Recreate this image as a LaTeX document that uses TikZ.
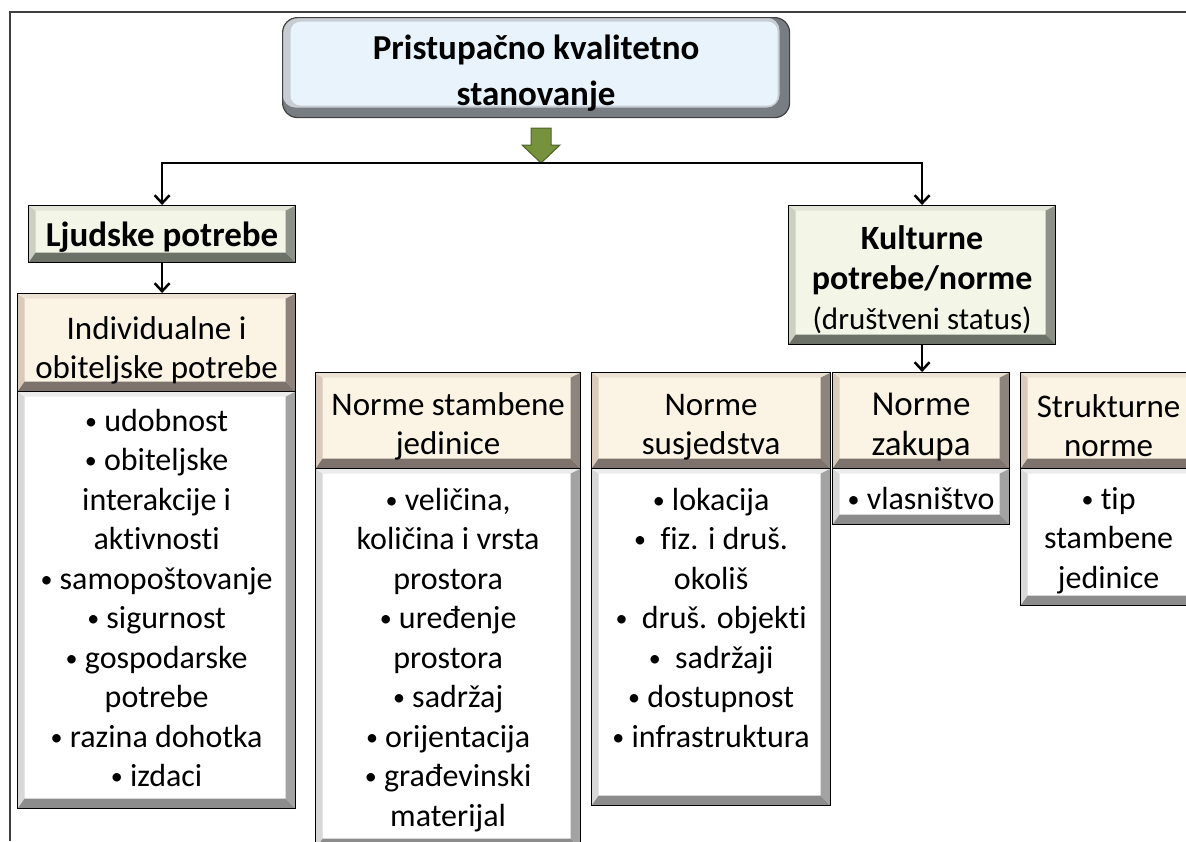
\documentclass[tikz,border=0pt]{standalone}
\usepackage{fontspec}
\setmainfont{Carlito}[Ligatures=CommonOff]
\usetikzlibrary{arrows.meta,calc}
\definecolor{FrameClr}{RGB}{64,64,64}
\definecolor{TopClr}{RGB}{232,243,252}
\definecolor{TopEdge}{RGB}{120,125,132}
\definecolor{TopLight}{RGB}{200,205,212}
\definecolor{MainClr}{RGB}{243,246,230}
\definecolor{MainL}{RGB}{204,208,192}
\definecolor{MainT}{RGB}{226,229,214}
\definecolor{MainR}{RGB}{140,146,136}
\definecolor{MainB}{RGB}{108,114,103}
\definecolor{HeadClr}{RGB}{251,244,228}
\definecolor{HeadL}{RGB}{217,202,188}
\definecolor{HeadT}{RGB}{236,226,212}
\definecolor{HeadR}{RGB}{142,132,126}
\definecolor{HeadB}{RGB}{125,115,108}
\definecolor{ItemL}{RGB}{216,216,216}
\definecolor{ItemT}{RGB}{236,236,236}
\definecolor{ItemR}{RGB}{163,163,163}
\definecolor{ItemB}{RGB}{140,140,140}
\definecolor{ArrowClr}{RGB}{118,146,60}
\definecolor{ArrowEdge}{RGB}{79,98,40}
\newcommand\bul{\raisebox{2pt}{\fontsize{24}{24}\selectfont•}}

\begin{document}
\begin{tikzpicture}[x=1pt,y=-1pt,
  bevel/.style n args={5}{fill=#1,path picture={
    \coordinate (bsw) at (path picture bounding box.south west);
    \coordinate (bne) at (path picture bounding box.north east);
    \coordinate (isw) at ($(bsw)+(7pt,10pt)$);
    \coordinate (ine) at ($(bne)+(-10pt,-5pt)$);
    \fill[#2] (bsw) -- (bsw|-bne) -- (isw|-ine) -- (isw) -- cycle;
    \fill[#3] (bsw|-bne) -- (bne) -- (ine) -- (isw|-ine) -- cycle;
    \fill[#4] (bne) -- (bne|-bsw) -- (ine|-isw) -- (ine) -- cycle;
    \fill[#5] (bsw) -- (bne|-bsw) -- (ine|-isw) -- (isw) -- cycle;}},
  box/.style={draw=black,line width=1.2pt,anchor=north west,inner sep=0pt,align=center},
  lowered/.style={execute at begin node={\rule{0pt}{#1}}},
  mainbox/.style={box,lowered=30pt,bevel={MainClr}{MainL}{MainT}{MainR}{MainB},font=\fontsize{35}{40}\selectfont\bfseries},
  headbox/.style={box,lowered=73pt,bevel={HeadClr}{HeadL}{HeadT}{HeadR}{HeadB},font=\fontsize{33}{39}\selectfont},
  itembox/.style={box,bevel={white}{ItemL}{ItemT}{ItemR}{ItemB}},
  items/.style={anchor=north,align=center,inner sep=0pt,font=\fontsize{32}{39.5}\selectfont},
  topbox/.style={draw=FrameClr,line width=1.2pt,rounded corners=15pt,anchor=north west,lowered=82pt,
    inner sep=0pt,align=center,fill=TopEdge,font=\fontsize{35}{46}\selectfont\bfseries,
    path picture={
    \coordinate (bsw) at (path picture bounding box.south west);
    \coordinate (bne) at (path picture bounding box.north east);
    \fill[TopLight,rounded corners=13pt] ($(bsw)+(0pt,10pt)$) rectangle ($(bne)+(-10pt,0pt)$);
    \fill[TopClr,rounded corners=10pt] ($(bsw)+(8pt,12pt)$) rectangle ($(bne)+(-12pt,-4pt)$);}},
  link/.style={line width=2.5pt,-{Straight Barb[length=8pt,width=15pt,line width=2.5pt]}}]

\useasboundingbox (0,0) rectangle (1186,841);
\draw[FrameClr,line width=1.5pt] (10,841) -- (10,12) -- (1186,12);

\node[topbox,minimum width=507pt,minimum height=100pt] (top) at (282,17) {Pristupačno kvalitetno\\stanovanje};
\filldraw[fill=ArrowClr,draw=ArrowEdge,line width=1pt] (531,128) -- (551,128) -- (551,145) -- (560,145)
  -- (541,163) -- (522,145) -- (531,145) -- cycle;

\node[mainbox,minimum width=267pt,minimum height=57pt] (lj) at (28,205) {Ljudske potrebe};
\node[mainbox,minimum width=267pt,minimum height=139pt,lowered=114pt,font=\fontsize{34}{40}\selectfont\bfseries] (kult) at (788,205)
  {Kulturne\\potrebe/norme\\{\fontsize{31}{40}\selectfont\mdseries(društveni status)}};

\node[headbox,minimum width=278pt,minimum height=98pt,lowered=78pt] (indh) at (17,293) {Individualne i\\obiteljske potrebe};
\node[itembox,minimum width=278pt,minimum height=417pt] (indb) at (17,391) {};
\node[items] (indt) at ($(indb.north)+(0,18)$) {\bul\ udobnost\\\bul\ obiteljske\\interakcije i\\aktivnosti\\
  \bul\ samopoštovanje\\\bul\ sigurnost\\\bul\ gospodarske\\potrebe\\\bul\ razina dohotka\\\bul\ izdaci};

\node[headbox,minimum width=265pt,minimum height=96pt] (stah) at (315,372) {Norme stambene\\jedinice};
\node[itembox,minimum width=265pt,minimum height=380pt] (stab) at (315,468) {};
\node[items] (stat) at ($(stab.north)+(0,20)$) {\bul\ veličina,\\količina i vrsta\\prostora\\\bul\ uređenje\\prostora\\
  \bul\ sadržaj\\\bul\ orijentacija\\\bul\ građevinski\\materijal};

\node[headbox,minimum width=239pt,minimum height=96pt,lowered=68pt] (susjh) at (591,372) {Norme\\susjedstva};
\node[itembox,minimum width=239pt,minimum height=337pt] (susjb) at (591,468) {};
\node[items] (susjt) at ($(susjb.north)+(0,20)$) {\bul\ lokacija\\\bul\ \ fiz. i druš.\\okoliš\\\bul\ \ druš. objekti\\
  \bul\ \ sadržaji\\\bul\ dostupnost\\\bul\ infrastruktura};

\node[headbox,minimum width=177pt,minimum height=96pt,lowered=75pt,font=\fontsize{35}{40}\selectfont] (zakh) at (832,372) {Norme\\zakupa};
\node[itembox,minimum width=177pt,minimum height=56pt] (zakb) at (832,468) {};
\node[items] (zakt) at ($(zakb.north)+(0,19)$) {\bul\ vlasništvo};

\node[headbox,minimum width=176pt,minimum height=96pt,lowered=64pt] (strh) at (1020,372) {Strukturne\\norme};
\node[itembox,minimum width=176pt,minimum height=137pt] (strb) at (1020,468) {};
\node[items] (strt) at ($(strb.north)+(0,19)$) {\bul\ tip\\stambene\\jedinice};

\coordinate (bar) at (541,163);
\draw[link] (bar) -| (lj);
\draw[link] (bar) -| (kult);
\draw[link] (lj.south) -- (lj.south |- indh.north);
\draw[link] (kult.south) -- (kult.south |- zakh.north);
\end{tikzpicture}
\end{document}
